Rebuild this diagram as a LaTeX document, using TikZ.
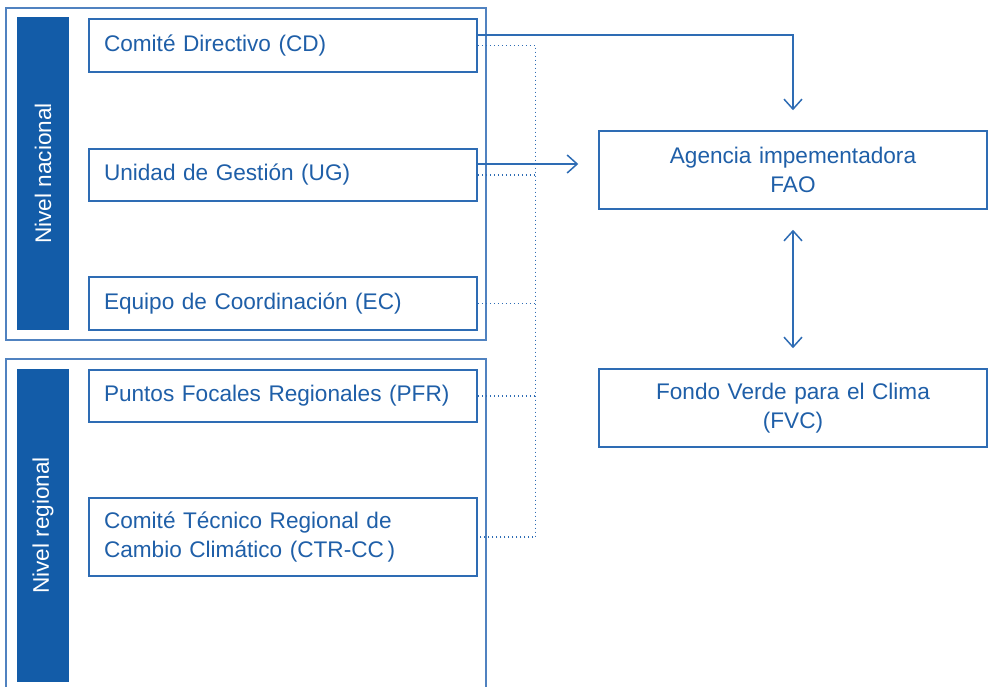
\documentclass[tikz,border=0pt]{standalone}
\usepackage{fontspec}
\setmainfont{Liberation Sans}
\usepackage{tikz}
\usetikzlibrary{arrows.meta}
\definecolor{bar}{RGB}{19, 92, 168}
\definecolor{ink}{RGB}{31, 95, 168}
\definecolor{edge}{RGB}{46, 108, 180}
\definecolor{frame}{RGB}{80, 130, 192}

\begin{document}
\begin{tikzpicture}[
   x=0.5pt, y=-0.5pt,
   font=\fontsize{11.3}{14.5}\selectfont,
   tip/.tip={Straight Barb[length=5pt, width=9pt]},
   unitbox/.style={rectangle, draw=edge, fill=white, line width=0.75, text=ink,
                   inner xsep=7.5pt, inner ysep=0pt, text width=179pt, align=left,
                   minimum width=194pt},
   partbox/.style={rectangle, draw=edge, fill=white, line width=0.75, text=ink,
                   inner sep=0pt, text width=194pt, align=center,
                   minimum width=194pt, minimum height=39pt},
   levelbar/.style={rectangle, fill=bar, text=white, rotate=90, inner sep=0pt},
   levelframe/.style={draw=frame, line width=0.75},
   link/.style={draw=edge, line width=0.75, shorten >=10pt},
   dotlink/.style={draw=edge, line width=0.7, dash pattern=on 0.7pt off 1.3pt}
  ]

  \useasboundingbox (0, 0) rectangle (991, 686);

  % Frames and side bars
  \draw[levelframe] (6, 8) rectangle (486, 340);
  \draw[levelframe] (6, 700) -- (6, 359) -- (486, 359) -- (486, 700);

  \node (N) at (43, 173.5) [levelbar, minimum width=156.5pt, minimum height=26pt] { Nivel nacional };
  \node (R) at (43, 525.5) [levelbar, minimum width=156.5pt, minimum height=26pt] { Nivel regional };

  % Units
  \node (CD) at (283, 45.5) [unitbox, minimum height=26.5pt] { Comité Directivo (CD) };
  \node (UG) at (283, 175) [unitbox, minimum height=26pt] { Unidad de Gestión (UG) };
  \node (EC) at (283, 303.5) [unitbox, minimum height=26.5pt] { Equipo de Coordinación (EC) };
  \node (PFR) at (283, 396) [unitbox, minimum height=26pt] { Puntos Focales Regionales (PFR) };
  \node (CTR) at (283, 537) [unitbox, minimum height=39pt] { Comité Técnico Regional de\\Cambio Climático (CTR-CC\,) };

  \node (AG) at (793, 170) [partbox] { Agencia impementadora\\FAO };
  \node (FVC) at (793, 408) [partbox] { Fondo Verde para el Clima\\(FVC) };

  % Dotted bus
  \coordinate (bus) at ([xshift=29pt]CD.east);
  \draw[dotlink] (CD.east) -- (bus) |- (CTR.east);
  \foreach \B in {UG, EC, PFR} {
    \draw[dotlink] (\B.east) -- (\B.east -| bus);
  }

  % Arrows
  \draw[link, -tip] ([yshift=5.25pt]CD.east) -| (AG.north);
  \draw[link, -tip] ([yshift=5.5pt]UG.east) -- ([yshift=5.5pt]UG.east -| AG.west);
  \draw[link, tip-tip, shorten <=10pt] (AG.south) -- (FVC.north);

\end{tikzpicture}
\end{document}
